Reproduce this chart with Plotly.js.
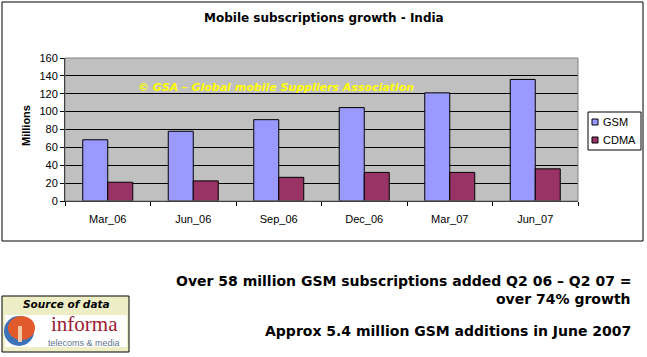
<!DOCTYPE html>
<html>
<head>
<meta charset="utf-8">
<script src="https://cdn.plot.ly/plotly-3.0.1.min.js"></script>
<style>html,body{margin:0;padding:0;background:#fff;}#chart{width:647px;height:357px;}</style>
</head>
<body>
<div id="chart"></div>
<script>
// ---- data ----
var categories = ["Mar_06", "Jun_06", "Sep_06", "Dec_06", "Mar_07", "Jun_07"];
var gsmValues = [68.5, 78, 91, 104.5, 121, 136];
var cdmaValues = [21, 22.5, 26.5, 32, 32, 36];
var seriesNames = ["GSM", "CDMA"];
var yTickValues = [0, 20, 40, 60, 80, 100, 120, 140, 160];

// ---- layout geometry (pixels) ----
var Wd = 647, Ht = 357;
var L = 65, R = 578, T = 58, B = 201;
var W = R - L, H = B - T;
function X(px) { return (px - L) / W; }
function Y(py) { return (B - py) / H; }
var FONT = "Arial, 'Liberation Sans', sans-serif";
var WIDE = "'DejaVu Sans', Verdana, sans-serif";
var colors = ["#9999ff", "#993366"];

var traces = [
  {type: "bar", name: seriesNames[0], x: categories, y: gsmValues,
   marker: {color: colors[0], line: {color: "#000", width: 1}}, showlegend: false, hoverinfo: "none"},
  {type: "bar", name: seriesNames[1], x: categories, y: cdmaValues,
   marker: {color: colors[1], line: {color: "#000", width: 1}}, showlegend: false, hoverinfo: "none"}
];

var shapes = [
  // outer chart frame
  {type: "rect", xref: "paper", yref: "paper", x0: X(2), x1: X(643), y0: Y(241), y1: Y(2),
   line: {color: "#000", width: 1}, layer: "below"},
  // plot area border
  {type: "rect", xref: "paper", yref: "paper", x0: 0, x1: 1, y0: 0, y1: 1,
   line: {color: "#808080", width: 1}, layer: "above"},
  // legend box
  {type: "rect", xref: "paper", yref: "paper", x0: X(588), x1: X(641), y0: Y(150), y1: Y(112),
   line: {color: "#000", width: 1}, fillcolor: "#fff"},
  // legend swatches
  {type: "rect", xref: "paper", yref: "paper", x0: X(592), x1: X(598), y0: Y(125), y1: Y(119),
   line: {color: "#000", width: 1}, fillcolor: colors[0]},
  {type: "rect", xref: "paper", yref: "paper", x0: X(592), x1: X(598), y0: Y(143), y1: Y(137),
   line: {color: "#000", width: 1}, fillcolor: colors[1]},
  // source box
  {type: "rect", xref: "paper", yref: "paper", x0: X(2), x1: X(129), y0: Y(352), y1: Y(296),
   line: {color: "#000", width: 1}, fillcolor: "#eeeec6"},
  {type: "rect", xref: "paper", yref: "paper", x0: X(5), x1: X(127), y0: Y(347), y1: Y(315),
   line: {width: 0}, fillcolor: "#ffffff"},
  // informa logo circles
  {type: "circle", xref: "paper", yref: "paper", x0: X(4), x1: X(34), y0: Y(346), y1: Y(316),
   line: {width: 0}, fillcolor: "#3b72b8"},
  {type: "circle", xref: "paper", yref: "paper", x0: X(8), x1: X(35), y0: Y(340), y1: Y(316),
   line: {width: 0}, fillcolor: "#e05a2c"},
  {type: "rect", xref: "paper", yref: "paper", x0: X(18), x1: X(22), y0: Y(342), y1: Y(326),
   line: {width: 0}, fillcolor: "#f3c9a8"}
];

var annotations = [
  {text: "Mobile subscriptions growth - India", xref: "paper", yref: "paper", x: X(324), y: Y(18),
   showarrow: false, xanchor: "center", yanchor: "middle", font: {family: WIDE, size: 12, color: "#000", weight: "bold"}},
  {text: "Millions", xref: "paper", yref: "paper", x: X(26), y: Y(126), textangle: -90,
   showarrow: false, xanchor: "center", yanchor: "middle", font: {family: FONT, size: 11, color: "#000", weight: "bold"}},
  {text: "© GSA – Global mobile Suppliers Association", xref: "paper", yref: "paper", x: X(136), y: Y(87),
   showarrow: false, xanchor: "left", yanchor: "middle", font: {family: WIDE, size: 11, color: "#ffff00", weight: "bold", style: "italic"}},
  {text: seriesNames[0], xref: "paper", yref: "paper", x: X(601), y: Y(122),
   showarrow: false, xanchor: "left", yanchor: "middle", font: {family: FONT, size: 11, color: "#000"}},
  {text: seriesNames[1], xref: "paper", yref: "paper", x: X(601), y: Y(140),
   showarrow: false, xanchor: "left", yanchor: "middle", font: {family: FONT, size: 11, color: "#000"}},
  {text: "Over 58 million GSM subscriptions added Q2 06 – Q2 07 =", xref: "paper", yref: "paper", x: X(633), y: Y(281),
   showarrow: false, xanchor: "right", yanchor: "middle", font: {family: WIDE, size: 14, color: "#000", weight: "bold"}},
  {text: "over 74% growth", xref: "paper", yref: "paper", x: X(633), y: Y(299),
   showarrow: false, xanchor: "right", yanchor: "middle", font: {family: WIDE, size: 14, color: "#000", weight: "bold"}},
  {text: "Approx 5.4 million GSM additions in June 2007", xref: "paper", yref: "paper", x: X(633), y: Y(331),
   showarrow: false, xanchor: "right", yanchor: "middle", font: {family: WIDE, size: 14, color: "#000", weight: "bold"}},
  {text: "Source of data", xref: "paper", yref: "paper", x: X(66), y: Y(304),
   showarrow: false, xanchor: "center", yanchor: "middle", font: {family: WIDE, size: 10.5, color: "#000", weight: "bold", style: "italic"}},
  {text: "informa", xref: "paper", yref: "paper", x: X(84), y: Y(324),
   showarrow: false, xanchor: "center", yanchor: "middle", font: {family: "'Liberation Serif', 'DejaVu Serif', serif", size: 21, color: "#9b1b33"}},
  {text: "telecoms &amp; media", xref: "paper", yref: "paper", x: X(84), y: Y(343),
   showarrow: false, xanchor: "center", yanchor: "middle", font: {family: FONT, size: 9, color: "#5f7790"}}
];

var layout = {
  width: Wd, height: Ht,
  margin: {l: L, r: Wd - R, t: T, b: Ht - B, pad: 0},
  paper_bgcolor: "#ffffff",
  plot_bgcolor: "#c0c0c0",
  barmode: "group", bargap: 0.415, bargroupgap: 0,
  showlegend: false,
  font: {family: FONT, size: 11, color: "#000"},
  xaxis: {
    type: "category", tickson: "boundaries", ticks: "outside", ticklen: 4, tickcolor: "#000",
    showline: true, linecolor: "#000", linewidth: 1, showgrid: false,
    tickfont: {family: FONT, size: 11, color: "#000"}, ticklabelstandoff: 8, fixedrange: true
  },
  yaxis: {
    range: [0, 160], tickvals: yTickValues, ticks: "outside", ticklen: 4, tickcolor: "#000",
    showline: true, linecolor: "#000", linewidth: 1, showgrid: true, gridcolor: "#000", gridwidth: 1,
    zeroline: false, tickfont: {family: FONT, size: 11, color: "#000"}, fixedrange: true
  },
  shapes: shapes,
  annotations: annotations
};

Plotly.newPlot("chart", traces, layout, {staticPlot: true, displayModeBar: false});
</script>
</body>
</html>
